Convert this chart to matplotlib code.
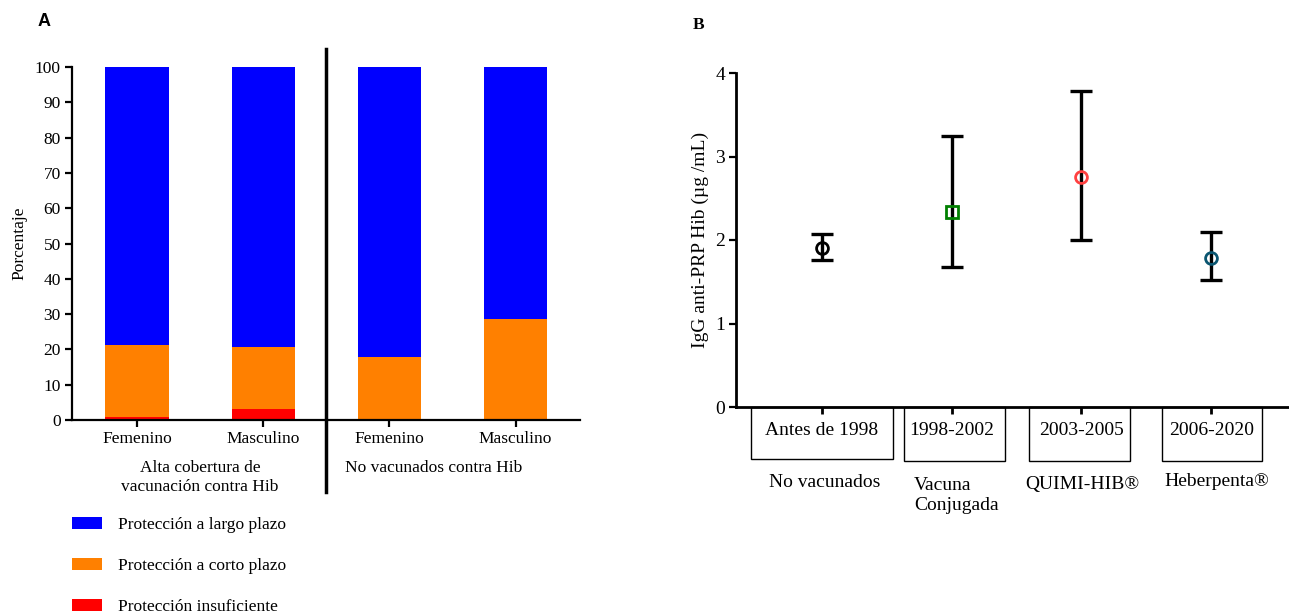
import numpy as np
import matplotlib.pyplot as plt
from matplotlib.patches import Rectangle

plt.rcParams['font.family'] = ['Liberation Serif', 'DejaVu Serif']

# Panel A: porcentaje por sexo y grupo
sexos = ['Femenino', 'Masculino', 'Femenino', 'Masculino']
insuficiente = [0.8, 3.0, 0.0, 0.0]
corto_plazo = [20.4, 17.7, 17.8, 28.5]
largo_plazo = [78.8, 79.3, 82.2, 71.5]
grupos = ['Alta cobertura de\nvacunación contra Hib', 'No vacunados contra Hib']
leyenda = ['Protección a largo plazo', 'Protección a corto plazo', 'Protección insuficiente']

# Panel B: IgG anti-PRP Hib por periodo
periodos = ['Antes de 1998', '1998-2002', '2003-2005', '2006-2020']
vacunas = ['No vacunados', 'Vacuna\nConjugada', 'QUIMI-HIB®', 'Heberpenta®']
media = [1.91, 2.34, 2.75, 1.79]
inferior = [1.76, 1.68, 2.00, 1.52]
superior = [2.07, 3.24, 3.79, 2.10]

W, H = 1289, 615
fig = plt.figure(figsize=(W / 100, H / 100), dpi=100)


def px_axes(x0, y0, x1, y1):
    return fig.add_axes([x0 / W, 1 - y1 / H, (x1 - x0) / W, (y1 - y0) / H])


# ---------- A ----------
axA = px_axes(72, 67, 580, 420)
x = np.arange(len(sexos))
azul, naranja, rojo = '#0000FF', '#FF8000', '#FF0000'
b_ins = axA.bar(x, insuficiente, width=0.5, color=rojo)
b_cor = axA.bar(x, corto_plazo, width=0.5, bottom=insuficiente, color=naranja)
base = np.array(insuficiente) + np.array(corto_plazo)
b_lar = axA.bar(x, largo_plazo, width=0.5, bottom=base, color=azul)

axA.set_xlim(-0.515, 3.51)
axA.set_ylim(0, 100)
axA.set_yticks(range(0, 101, 10))
axA.set_xticks(x)
axA.set_xticklabels(sexos)
for s in ['top', 'right']:
    axA.spines[s].set_visible(False)
for s in ['left', 'bottom']:
    axA.spines[s].set_linewidth(1.6)
axA.tick_params(width=1.6, length=5, labelsize=12.5, pad=3)
axA.set_ylabel('Porcentaje', fontsize=12.5, labelpad=5)

axA.plot([1.5, 1.5], [-20.4, 105.1], color='black', lw=2.5, clip_on=False)
axA.text(0.5, -16.3, grupos[0], ha='center', va='center', fontsize=12.5,
         linespacing=1.2)
axA.text(1.65, -13.7, grupos[1], ha='left', va='center', fontsize=12.5)

fig.text(38 / W, 1 - 22 / H, 'A', fontsize=13, fontweight='bold',
         family='Liberation Sans', ha='left', va='center')

fig.legend([b_lar, b_cor, b_ins], leyenda, loc='upper left',
           bbox_to_anchor=(72 / W, 1 - 517 / H), frameon=False, fontsize=12.5,
           handlelength=1.7, handleheight=0.65, handletextpad=0.95,
           labelspacing=1.45, borderpad=0, borderaxespad=0)

# ---------- B ----------
axB = px_axes(736, 73, 1289, 407)
xb = np.arange(1, len(periodos) + 1)
colores = ['black', '#008000', '#FF4040', '#0A5570']
marcadores = ['o', 's', 'o', 'o']
for i in range(len(periodos)):
    err = [[media[i] - inferior[i]], [superior[i] - media[i]]]
    axB.errorbar(xb[i], media[i], yerr=err, fmt='none', ecolor='black',
                 elinewidth=2.4, capsize=8, capthick=2.4, zorder=2)
    axB.plot(xb[i], media[i], marker=marcadores[i], ms=8.5, mfc='none',
             mec=colores[i], mew=2, ls='none', zorder=3)

axB.set_xlim(0.337, 4.6)
axB.set_ylim(0, 4)
axB.set_yticks(range(0, 5))
axB.set_xticks(xb)
axB.set_xticklabels(periodos)
for s in ['top', 'right']:
    axB.spines[s].set_visible(False)
for s in ['left', 'bottom']:
    axB.spines[s].set_linewidth(2)
axB.tick_params(axis='y', width=1.6, length=5, labelsize=14, pad=3)
axB.tick_params(axis='x', width=2, length=5, labelsize=14, pad=6)
axB.set_ylabel('IgG anti-PRP Hib (µg /mL)', fontsize=14, labelpad=4)

cajas = [(0.45, 1.545, -0.62), (1.632, 2.411, -0.647),
         (2.596, 3.375, -0.647), (3.622, 4.393, -0.647)]
for x0, x1, yb in cajas:
    axB.add_patch(Rectangle((x0, yb), x1 - x0, -yb, fill=False,
                            edgecolor='black', lw=1, clip_on=False))

axB.text(1.02, -0.91, vacunas[0], ha='center', va='center', fontsize=14)
axB.text(1.71, -1.06, vacunas[1], ha='left', va='center', fontsize=14,
         linespacing=1.25)
axB.text(3.01, -0.93, vacunas[2], ha='center', va='center', fontsize=14)
axB.text(4.04, -0.89, vacunas[3], ha='center', va='center', fontsize=14)

fig.text(693 / W, 1 - 25 / H, 'B', fontsize=12.5, fontweight='bold',
         ha='left', va='center')

fig.savefig('out.png', dpi=100)
